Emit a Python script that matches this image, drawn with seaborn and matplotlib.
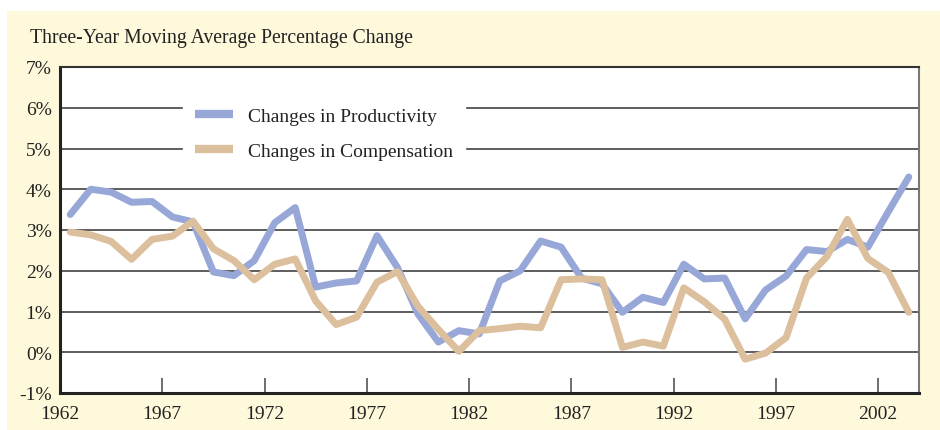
import numpy as np
import pandas as pd
import seaborn as sns
import matplotlib.pyplot as plt

sns.set_style('white')
plt.rcParams['font.family'] = ['Liberation Serif', 'DejaVu Serif']

years = list(range(1962, 2004))
productivity = [3.38, 4.0, 3.93, 3.68, 3.7, 3.32, 3.2, 1.97, 1.88, 2.25,
                3.18, 3.55, 1.6, 1.7, 1.75, 2.86, 2.08, 0.94, 0.25, 0.53,
                0.45, 1.75, 2.0, 2.73, 2.58, 1.82, 1.68, 0.98, 1.35, 1.22,
                2.16, 1.8, 1.82, 0.82, 1.53, 1.87, 2.52, 2.47, 2.77, 2.58,
                3.45, 4.3]
compensation = [2.95, 2.88, 2.72, 2.28, 2.77, 2.85, 3.22, 2.54, 2.25, 1.78,
                2.16, 2.29, 1.26, 0.68, 0.86, 1.72, 1.98, 1.13, 0.56, 0.02,
                0.53, 0.58, 0.64, 0.6, 1.78, 1.8, 1.78, 0.12, 0.25, 0.15,
                1.58, 1.24, 0.81, -0.17, -0.02, 0.36, 1.82, 2.35, 3.26, 2.3,
                1.96, 0.98]
xticks = list(range(1962, 2003, 5))
yticks = list(range(-1, 8))

df = pd.DataFrame({'year': np.array(years) + 0.5,
                   'Changes in Productivity': productivity,
                   'Changes in Compensation': compensation})

blue = '#97A7D7'
tan = '#DCBF9C'

fig = plt.figure(figsize=(9.4, 4.31), dpi=100, facecolor='white')
# cream panel behind everything
bg = fig.add_axes([7 / 940, 0, 933 / 940, (431 - 12) / 431], zorder=-5)
bg.set_facecolor('#FEF9DB')
bg.set_xticks([])
bg.set_yticks([])
for s in bg.spines.values():
    s.set_visible(False)

ax = fig.add_axes([60 / 940, 1 - 394 / 431, 859 / 940, 326 / 431], zorder=1)
ax.set_facecolor('white')

for ytk in range(0, 7):
    ax.axhline(ytk, color='#505050', linewidth=1.3, zorder=1)

sns.lineplot(data=df, x='year', y='Changes in Productivity', ax=ax,
             color=blue, linewidth=5, label='Changes in Productivity', zorder=3)
sns.lineplot(data=df, x='year', y='Changes in Compensation', ax=ax,
             color=tan, linewidth=5, label='Changes in Compensation', zorder=3)

ax.set_xlim(1962, 2004)
ax.set_ylim(-1, 7)
ax.set_xticks(xticks)
ax.set_xticklabels([str(x) for x in xticks])
ax.set_yticks(yticks)
ax.set_yticklabels([f'{y}%' for y in yticks])
ax.tick_params(axis='x', bottom=True, direction='in', length=11, width=1.2,
               color='#555555', labelsize=14, pad=9, labelcolor='#222222')
ax.tick_params(axis='y', left=False, length=0, labelsize=14, pad=6,
               labelcolor='#222222')
ax.set_xlabel('')
ax.set_ylabel('')

for side in ['left', 'bottom']:
    ax.spines[side].set_color('#222222')
    ax.spines[side].set_linewidth(2.2)
ax.spines['top'].set_color('#333333')
ax.spines['top'].set_linewidth(1.5)
ax.spines['right'].set_color('#777777')
ax.spines['right'].set_linewidth(1.5)

leg = ax.legend(loc='upper left', bbox_to_anchor=(0.1323, 0.943),
                frameon=True, fontsize=14, handlelength=1.96,
                handletextpad=0.77, labelspacing=0.92, borderpad=0.6,
                fancybox=False, labelcolor='#222222')
leg.get_frame().set_facecolor('white')
leg.get_frame().set_edgecolor('white')
leg.get_frame().set_alpha(1)
leg.set_zorder(5)
for h in leg.get_lines():
    h.set_linewidth(6)
    h.set_solid_capstyle('butt')

fig.text(30 / 940, 1 - 38 / 431, 'Three-Year Moving Average Percentage Change',
         fontsize=14.2, color='#222222', va='center', ha='left')

fig.savefig('out.png', dpi=100, facecolor=fig.get_facecolor())
